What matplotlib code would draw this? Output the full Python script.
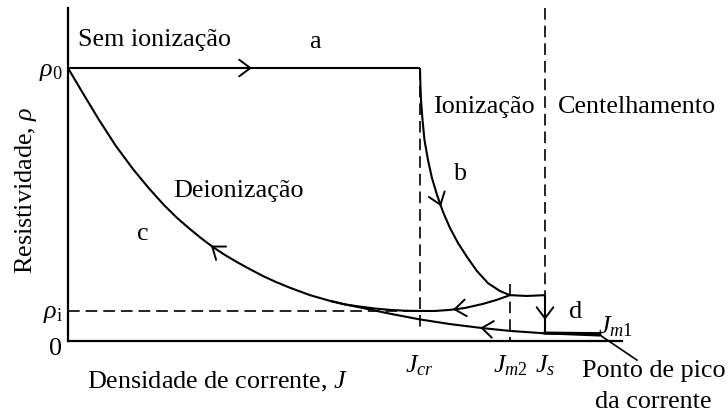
import numpy as np
import matplotlib
matplotlib.use('Agg')
import matplotlib.pyplot as plt
from matplotlib.transforms import ScaledTranslation

plt.rcParams['font.family'] = ['Liberation Serif', 'DejaVu Serif']
plt.rcParams['mathtext.fontset'] = 'custom'
plt.rcParams['mathtext.rm'] = 'Liberation Serif'
plt.rcParams['mathtext.it'] = 'Liberation Serif:italic'
plt.rcParams['lines.scale_dashes'] = False

# pontos caracteristicos (J em unidades arbitrarias, rho normalizado por rho0)
J_CR, J_M2, J_S, J_M1 = 6.35, 7.98, 8.61, 9.60
RHO_0, RHO_I = 1.0, 0.11

# a: sem ionizacao
a_j = [0.0, J_CR]
a_rho = [RHO_0, RHO_0]

# b: ionizacao
b_j = [6.354, 6.361, 6.372, 6.399, 6.435, 6.498, 6.570, 6.661, 6.769, 6.895,
       7.040, 7.202, 7.383, 7.581, 7.798, 7.978, 8.285, 8.610]
b_rho = [1.000, 0.938, 0.883, 0.810, 0.736, 0.663, 0.597, 0.535, 0.473, 0.414,
         0.359, 0.308, 0.256, 0.212, 0.183, 0.168, 0.165, 0.168]

# c: deionizacao a partir do pico de corrente
c_j = [0.000, 0.271, 0.560, 0.866, 1.173, 1.462, 1.733, 1.968, 2.202, 2.401,
       2.617, 2.834, 3.051, 3.285, 3.520, 3.755, 4.007, 4.368, 4.729, 5.000,
       5.271, 5.812, 6.354, 6.895, 7.491, 7.978, 8.610, 9.603]
c_rho = [1.000, 0.907, 0.810, 0.714, 0.630, 0.559, 0.498, 0.451, 0.410, 0.377,
         0.344, 0.315, 0.289, 0.263, 0.238, 0.216, 0.195, 0.168, 0.147, 0.134,
         0.123, 0.100, 0.079, 0.062, 0.047, 0.037, 0.028, 0.020]

# retorno a partir de Jm2
r_j = [4.729, 5.000, 5.271, 5.542, 5.812, 6.083, 6.354, 6.625, 6.895, 7.166,
       7.491, 7.744, 7.978]
r_rho = [0.147, 0.134, 0.126, 0.119, 0.114, 0.111, 0.110, 0.110, 0.114, 0.121,
         0.136, 0.151, 0.168]

# d: centelhamento
d_j = [J_S, J_S, J_M1]
d_rho = [0.168, 0.029, 0.027]

x_ticks = [J_CR, J_M2, J_S]
x_tick_labels = [r'$J_{cr}$', r'$J_{m2}$', r'$J_s$']
y_ticks = [0.0, RHO_I, RHO_0]
y_tick_labels = ['0', r'$\rho_\mathrm{i}$', r'$\rho_0$']

W, H = 728, 419
FS = 18.8


def fxy(px, py):
    return px / W, 1 - py / H


fig = plt.figure(figsize=(W / 100, H / 100), dpi=100)
ax = fig.add_axes([68 / W, 1 - 341 / H, 554 / W, 333 / H])
ax.set_xlim(0, 10.0)
ax.set_ylim(0, 1.22)
for s in ['top', 'right']:
    ax.spines[s].set_visible(False)
for s in ['left', 'bottom']:
    ax.spines[s].set_linewidth(1.6)

ax.set_xticks(x_ticks, x_tick_labels, fontsize=FS)
ax.set_yticks(y_ticks, y_tick_labels, fontsize=FS)
ax.tick_params(axis='x', length=0, pad=9)
ax.tick_params(axis='y', length=0, pad=4)
# o "0" fica um pouco abaixo do eixo
zero = ax.get_yticklabels()[0]
zero.set_transform(zero.get_transform() + ScaledTranslation(0, -0.05, fig.dpi_scale_trans))

lk = dict(color='black', lw=1.5, clip_on=False, solid_capstyle='butt')
dk = dict(color='black', lw=1.2, ls=(0, (8.4, 4.3)), clip_on=False)

# linhas tracejadas de referencia
ax.plot([0, J_CR], [RHO_I, RHO_I], **dk)
ax.plot([J_CR, J_CR], [RHO_0, 0.05], **dk)
ax.plot([J_M2, J_M2], [0.21, 0.0], **dk)
ax.plot([J_S, J_S], [1.22, 0.168], **dk)

ax.plot(a_j, a_rho, **lk)
ax.plot(b_j, b_rho, **lk)
ax.plot(c_j, c_rho, **lk)
ax.plot(r_j, r_rho, **lk)
ax.plot(d_j[:2], d_rho[:2], **lk)
ax.plot(d_j[1:], d_rho[1:], color='black', lw=2.2, clip_on=False)

# linha indicadora do ponto de pico
ax.plot([J_M1, 10.27], [0.022, -0.07], color='black', lw=1.2, clip_on=False)

ap = dict(arrowstyle='->, head_length=0.4, head_width=0.3', color='black', lw=1.4,
          mutation_scale=20, shrinkA=0, shrinkB=0)


def arrow_on(xs, ys, x0, left=False):
    xs = np.asarray(xs)
    ys = np.asarray(ys)
    y0 = np.interp(x0, xs, ys)
    i = max(1, min(np.searchsorted(xs, x0), len(xs) - 1))
    p = ax.transData.transform(np.column_stack([xs[i - 1:i + 1], ys[i - 1:i + 1]]))
    d = p[1] - p[0]
    d = d / np.hypot(*d)
    if left:
        d = -d
    ax.annotate('', xy=(x0, y0), xytext=(-d[0] * 3, -d[1] * 3),
                textcoords='offset pixels', arrowprops=ap, annotation_clip=False)


arrow_on(a_j, a_rho, 3.32)
arrow_on(b_j, b_rho, 6.733)
arrow_on(c_j, c_rho, 2.58, left=True)
arrow_on(r_j, r_rho, 6.95, left=True)
arrow_on(c_j, c_rho, 7.44, left=True)
ax.annotate('', xy=(J_S, 0.077), xytext=(0, 3), textcoords='offset pixels',
            arrowprops=ap, annotation_clip=False)

labels = [
    ('Sem ionização', 78, 46, 'left'),
    ('a', 315, 48, 'center'),
    ('Ionização', 433, 113, 'left'),
    ('Centelhamento', 558, 113, 'left'),
    ('b', 461, 180, 'center'),
    ('Deionização', 173, 197, 'left'),
    ('c', 143, 240, 'center'),
    ('d', 576, 318, 'center'),
    (r'$J_{m1}$', 598, 333, 'left'),
    (r'Densidade de corrente, $J$', 87, 388, 'left'),
    ('Ponto de pico', 654, 377, 'center'),
    ('da corrente', 653, 408, 'center'),
]
for txt, px, py, ha in labels:
    fig.text(*fxy(px, py), txt, fontsize=FS, ha=ha, va='baseline')

fig.text(*fxy(26, 190), r'Resistividade, $\rho$', fontsize=FS, rotation=90,
         ha='center', va='center')

fig.savefig('out.png', dpi=100)
